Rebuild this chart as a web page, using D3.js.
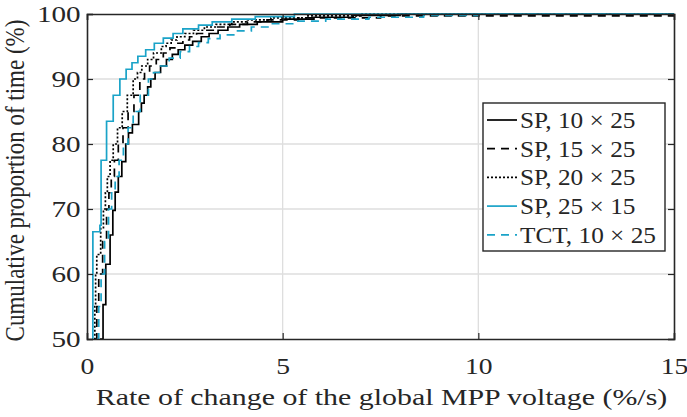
<!DOCTYPE html>
<html>
<head>
<meta charset="utf-8">
<script src="https://cdn.jsdelivr.net/npm/d3@7"></script>
<style>
  body { margin: 0; background: #fff; }
  svg text { font-family: "Liberation Serif", "Times New Roman", serif; fill: #262626; }
</style>
</head>
<body>
<svg id="chart" width="687" height="417"></svg>
<script>
// CDF of the rate of change of the global MPP voltage
// each series: rate (%/s) at which the cumulative proportion reaches the matching level

var xTicks = [0, 5, 10, 15];
var yTicks = [50, 60, 70, 80, 90, 100];

var sp10Level = [50, 55.3, 61.5, 66, 69.8, 72.6, 75, 77.3, 80, 81.7, 83, 85, 86.3, 87.5, 88.8, 90, 91, 92, 93, 93.8, 94.5, 95.2, 95.8, 96.5, 97, 97.5, 98, 98.4, 98.8, 99.2, 99.5, 99.8, 100];
var sp10Rate  = [0.33, 0.41, 0.48, 0.59, 0.66, 0.72, 0.8, 0.89, 0.99, 1.06, 1.16, 1.32, 1.39, 1.46, 1.55, 1.63, 1.74, 1.88, 2.03, 2.18, 2.33, 2.5, 2.7, 2.92, 3.12, 3.35, 3.6, 3.9, 4.35, 5.0, 5.8, 6.8, 8];

var sp15Level = [50, 55, 60, 65, 70, 72.5, 75, 77.5, 80, 82.5, 85, 87.5, 90, 91, 92, 93, 94, 94.8, 95.5, 96, 96.5, 97, 97.5, 98, 98.4, 98.8, 99.1, 99.4, 99.7, 100];
var sp15Rate  = [0.2, 0.25, 0.3, 0.4, 0.5, 0.56, 0.62, 0.7, 0.8, 0.92, 1.05, 1.2, 1.35, 1.47, 1.6, 1.77, 1.95, 2.12, 2.3, 2.45, 2.62, 2.8, 3.0, 3.3, 3.65, 4.1, 4.6, 5.4, 7.5, 15];

var sp20Level = [50, 55, 60, 63, 67, 70, 72.5, 75, 77.5, 80, 82.5, 85, 87.5, 90, 91, 92, 93, 94, 95, 95.5, 96, 96.5, 97, 97.5, 98, 98.4, 98.8, 99.1, 99.4, 99.7, 100];
var sp20Rate  = [0.18, 0.2, 0.22, 0.25, 0.35, 0.42, 0.47, 0.52, 0.59, 0.67, 0.78, 0.9, 1.03, 1.18, 1.29, 1.4, 1.55, 1.7, 1.9, 2.02, 2.15, 2.3, 2.5, 2.72, 3.0, 3.3, 3.7, 4.1, 4.7, 5.6, 7];

var sp25Level = [50, 66.5, 67.5, 77.5, 83.5, 87.5, 90, 91.5, 92.5, 93.5, 94.5, 95.5, 96.3, 97, 97.7, 98.3, 98.8, 99.2, 99.6, 100];
var sp25Rate  = [0.13, 0.15, 0.33, 0.36, 0.5, 0.67, 0.84, 1.0, 1.15, 1.3, 1.5, 1.72, 1.95, 2.2, 2.45, 2.85, 3.2, 3.7, 4.3, 5.3];

var tctLevel = [50, 55, 60, 65, 70, 72.5, 75, 77.5, 80, 82.5, 85, 87.5, 90, 91, 92, 93.2, 94.2, 95, 95.6, 96.2, 96.8, 97.4, 98, 98.5, 98.9, 99.2, 99.5, 99.8, 100];
var tctRate  = [0.25, 0.3, 0.36, 0.45, 0.55, 0.63, 0.72, 0.82, 0.93, 1.05, 1.18, 1.36, 1.57, 1.7, 1.85, 2.1, 2.38, 2.62, 2.85, 3.1, 3.4, 3.75, 4.2, 4.7, 5.3, 6.1, 7.2, 8.6, 10];

var seriesNames = ["SP, 10 \u00d7 25", "SP, 15 \u00d7 25", "SP, 20 \u00d7 25", "SP, 25 \u00d7 15", "TCT, 10 \u00d7 25"];
var seriesColor = ["#000000", "#000000", "#000000", "#1aa3c8", "#1aa3c8"];
var seriesDash  = [null, "8,6", "2,2", null, "8,6"];

var series = [
  {level: sp10Level, rate: sp10Rate},
  {level: sp15Level, rate: sp15Rate},
  {level: sp20Level, rate: sp20Rate},
  {level: sp25Level, rate: sp25Rate},
  {level: tctLevel, rate: tctRate}
];

var stretch = 1.27; // figure text looks widened horizontally
var fs = 23;

var svg = d3.select("#chart");
var mLeft = 87, mRight = 674, mTop = 14, mBottom = 339;
var width = mRight - mLeft, height = mBottom - mTop;

var x = d3.scaleLinear().domain([0, 15]).range([0, width]);
var y = d3.scaleLinear().domain([50, 100]).range([height, 0]);

var g = svg.append("g").attr("transform", "translate(" + mLeft + "," + mTop + ")");

// grid
g.append("g").selectAll("line").data(xTicks.slice(1, -1)).join("line")
  .attr("x1", d => x(d)).attr("x2", d => x(d)).attr("y1", 0).attr("y2", height)
  .attr("stroke", "#dedede").attr("stroke-width", 1.3);
g.append("g").selectAll("line").data(yTicks.slice(1, -1)).join("line")
  .attr("y1", d => y(d)).attr("y2", d => y(d)).attr("x1", 0).attr("x2", width)
  .attr("stroke", "#dedede").attr("stroke-width", 1.3);

// curves (empirical CDF steps: vertical jump at each rate, flat in between)
series.forEach(function(s, i){
  var pts = [];
  for (var k = 0; k < s.rate.length; k++) pts.push([s.rate[k], s.level[k]]);
  pts.push([15, s.level[s.level.length - 1]]);
  var path = [];
  for (var k = 0; k < pts.length; k++) {
    if (k > 0) path.push([pts[k][0], pts[k - 1][1]]);
    path.push(pts[k]);
  }
  g.append("path")
    .attr("d", d3.line().x(d => x(d[0])).y(d => y(d[1]))(path))
    .attr("fill", "none")
    .attr("stroke", seriesColor[i])
    .attr("stroke-width", 1.7)
    .attr("stroke-dasharray", seriesDash[i]);
});

// axes box + inward ticks
var xAxis = d3.axisBottom(x).tickValues(xTicks).tickSize(-6).tickPadding(19);
var yAxis = d3.axisLeft(y).tickValues(yTicks).tickSize(-6).tickPadding(5);

var gx = g.append("g").attr("transform", "translate(0," + height + ")").call(xAxis);
var gy = g.append("g").call(yAxis);
g.append("g").call(d3.axisTop(x).tickValues(xTicks).tickSize(-6).tickFormat(""));
g.append("g").attr("transform", "translate(" + width + ",0)")
  .call(d3.axisRight(y).tickValues(yTicks).tickSize(-6).tickFormat(""));

g.selectAll(".domain").attr("stroke", "#262626").attr("stroke-width", 1.6);
g.selectAll(".tick line").attr("stroke", "#262626").attr("stroke-width", 1.2);
g.selectAll(".tick text").attr("font-size", fs).attr("fill", "#262626")
  .attr("font-family", "Liberation Serif");
gx.selectAll(".tick text").attr("dy", "0.71em")
  .attr("transform", "scale(1.2,1)");
gy.selectAll(".tick text").attr("transform", "scale(" + stretch + ",1)").attr("dy", "0.34em");

// axis labels
svg.append("text")
  .attr("transform", "translate(" + (mLeft + width / 2 + 1) + ",405) scale(1.3,1)")
  .attr("text-anchor", "middle")
  .attr("font-size", fs)
  .text("Rate of change of the global MPP voltage (%/s)");

svg.append("text")
  .attr("transform", "translate(24," + (mTop + height / 2 + 4) + ") rotate(-90) scale(1,1.2)")
  .attr("text-anchor", "middle")
  .attr("font-size", fs)
  .text("Cumulative proportion of time (%)");

// legend
var lg = svg.append("g").attr("transform", "translate(483,103)");
lg.append("rect").attr("width", 182).attr("height", 148)
  .attr("fill", "#fff").attr("stroke", "#262626").attr("stroke-width", 1.4);
seriesNames.forEach(function(name, i){
  var cy = 17 + i * 28.7;
  lg.append("line").attr("x1", 4).attr("x2", 34).attr("y1", cy).attr("y2", cy)
    .attr("stroke", seriesColor[i]).attr("stroke-width", 1.7)
    .attr("stroke-dasharray", seriesDash[i]);
  lg.append("text")
    .attr("transform", "translate(37," + cy + ") scale(1.1,1)")
    .attr("dy", "0.34em")
    .attr("font-size", fs)
    .text(name);
});
</script>
</body>
</html>
